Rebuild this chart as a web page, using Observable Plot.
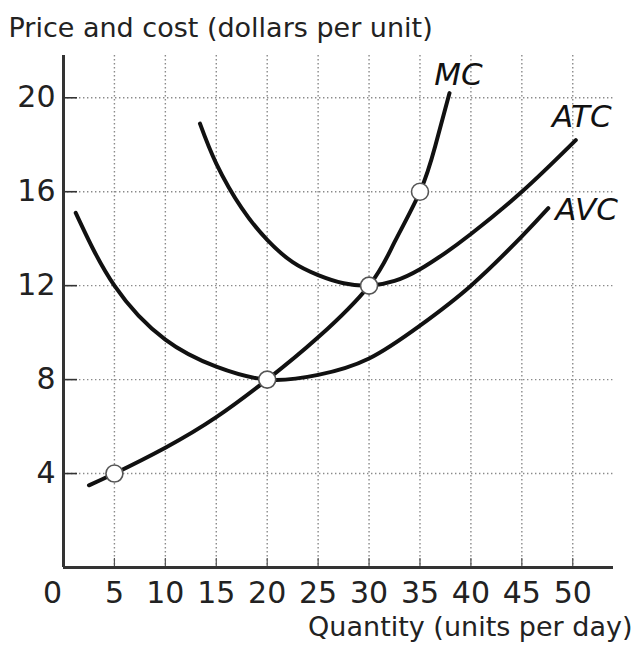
<!DOCTYPE html>
<html>
<head>
<meta charset="utf-8">
<script src="https://cdn.jsdelivr.net/npm/d3@7"></script>
<script src="https://cdn.jsdelivr.net/npm/@observablehq/plot@0.6"></script>
<style>
  html, body { margin: 0; padding: 0; background: #fff; }
  #chart { width: 633px; height: 650px; }
</style>
</head>
<body>
<div id="chart"></div>
<script>
// ---- data ----
const yTitle = "Price and cost (dollars per unit)";
const xTitle = "Quantity (units per day)";

const mcQ    = [2.5, 5, 10, 15, 20, 25, 30, 32.5, 35, 36.5, 37.9];
const mcCost = [3.5, 4, 5.1, 6.4, 8, 9.8, 12, 13.85, 16, 17.95, 20.2];

const atcQ    = [13.4, 15, 17.5, 20, 22.5, 25, 27.5, 30, 32.5, 35, 37.5, 40, 45, 50.3];
const atcCost = [18.9, 17.2, 15.3, 13.95, 13.0, 12.45, 12.1, 12, 12.2, 12.7, 13.4, 14.2, 16.0, 18.2];

const avcQ    = [1.2, 5, 10, 15, 20, 25, 30, 35, 40, 45, 47.6];
const avcCost = [15.1, 12.0, 9.7, 8.55, 8, 8.2, 8.9, 10.3, 12.0, 14.1, 15.3];

const dotQ    = [5, 20, 30, 35];
const dotCost = [4, 8, 12, 16];

const xTicks = [5, 10, 15, 20, 25, 30, 35, 40, 45, 50];
const xZero  = [0];
const yTicks = [4, 8, 12, 16, 20];

// ---- tables built from the arrays ----
const toRows = (name, qs, cs) => qs.map((q, i) => ({series: name, q, cost: cs[i]}));
const mcRows  = toRows("MC", mcQ, mcCost);
const atcRows = toRows("ATC", atcQ, atcCost);
const avcRows = toRows("AVC", avcQ, avcCost);
const curveRows = [...mcRows, ...atcRows, ...avcRows];
const dotRows = dotQ.map((q, i) => ({q, cost: dotCost[i]}));

const gridStyle = {stroke: "#8a8a8a", strokeOpacity: 1, strokeWidth: 1.4, strokeDasharray: "1.4,2.6"};
const labelStyle = {fontSize: 31, fontStyle: "italic", fill: "#111"};

const chart = Plot.plot({
  width: 633,
  height: 650,
  marginLeft: 63,
  marginRight: 20,
  marginTop: 55,
  marginBottom: 83,
  style: {fontFamily: "DejaVu Sans", background: "#fff", color: "#222"},
  x: {domain: [0, 54], label: null},
  y: {domain: [0, 21.8], label: null},
  marks: [
    Plot.gridX(xTicks, gridStyle),
    Plot.gridY(yTicks, gridStyle),
    // inward tick marks
    Plot.axisY(yTicks, {tickSize: -14, tickFormat: () => "", stroke: "#333", strokeWidth: 1.6, label: null}),
    Plot.axisX(xTicks, {tickSize: -9, tickFormat: () => "", stroke: "#555", strokeWidth: 1.2, label: null}),
    // tick labels
    Plot.axisY(yTicks, {tickSize: 0, tickPadding: 8, fontSize: 30, fill: "#222", label: null}),
    Plot.axisX(xTicks, {tickSize: 0, tickPadding: 14, fontSize: 30, fill: "#222", label: null}),
    Plot.axisX(xZero, {tickSize: 0, tickPadding: 14, fontSize: 30, fill: "#222", label: null, dx: -11}),
    // axis lines
    Plot.ruleX([0], {stroke: "#333", strokeWidth: 3}),
    Plot.ruleY([0], {stroke: "#333", strokeWidth: 3}),
    // curves
    Plot.line(curveRows, {x: "q", y: "cost", z: "series", stroke: "#111", strokeWidth: 4, curve: "natural"}),
    // marked points
    Plot.dot(dotRows, {x: "q", y: "cost", r: 8.5, fill: "#fff", stroke: "#555", strokeWidth: 1.6}),
    // curve labels
    Plot.text(mcRows, Plot.selectLast({x: "q", y: "cost", text: "series", dx: 9, dy: -18, textAnchor: "middle", ...labelStyle})),
    Plot.text(atcRows, Plot.selectLast({x: "q", y: "cost", text: "series", dx: 6, dy: -23, textAnchor: "middle", ...labelStyle})),
    Plot.text(avcRows, Plot.selectLast({x: "q", y: "cost", text: "series", dx: 7, dy: 2, textAnchor: "start", ...labelStyle})),
    // axis titles
    Plot.text([yTitle], {frameAnchor: "top-left", dx: -55, dy: -27, textAnchor: "start", lineAnchor: "middle", fontSize: 27, fill: "#222"}),
    Plot.text([xTitle], {frameAnchor: "bottom-right", dx: 19, dy: 60, textAnchor: "end", lineAnchor: "middle", fontSize: 27, fill: "#222"})
  ]
});
document.getElementById("chart").appendChild(chart);
</script>
</body>
</html>
